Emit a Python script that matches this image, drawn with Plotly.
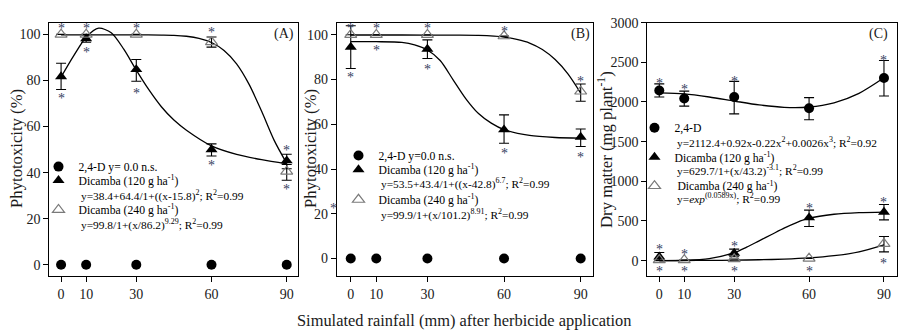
import plotly.graph_objects as go

# ---------------- data ----------------
rain = [0, 10, 30, 60, 90]

# Panel A - phytotoxicity (%)
A_24d = [0, 0, 0, 0, 0]
A_d120 = [81.7, 98.2, 84.8, 50.0, 45.2]
A_d120_up = [5.8, 1.7, 4.3, 2.5, 2.8]
A_d120_dn = [5.6, 1.6, 5.1, 2.8, 3.5]
A_d240 = [100, 100, 100, 96.7, 40.5]
A_d240_up = [0, 0, 0, 2.2, 3.0]
A_d240_dn = [0, 0, 0, 2.2, 3.8]
A_fit120_x = [0, 5, 10, 15, 20, 25, 30, 35, 40, 45, 50, 60, 70, 80, 90]
A_fit120_y = [81.5, 90.7, 98.8, 102.7, 100.7, 93.6, 84.5, 76.0, 68.6, 62.8, 58.4, 51.6, 47.9, 45.6, 43.8]
A_fit240_x = [0, 10, 20, 30, 40, 45, 50, 55, 60, 65, 70, 75, 80, 85, 90]
A_fit240_y = [99.8, 99.8, 99.8, 99.8, 99.7, 99.6, 99.2, 98.3, 96.5, 93.0, 87.2, 78.3, 66.6, 54.0, 44.0]
A_star_x = [0, 0, 10, 10, 30, 30, 60, 60, 90, 90]
A_star_y = [104, 73.4, 104, 93.5, 104, 75.8, 102.3, 44.6, 50.7, 34.0]

# Panel B - phytotoxicity (%)
B_24d = [0, 0, 0, 0, 0]
B_d120 = [94.5, None, 93.6, 57.6, 54.3]
B_d120_up = [9.5, 0, 4.1, 6.6, 3.6]
B_d120_dn = [9.6, 0, 4.2, 6.1, 4.2]
B_d240 = [100, 100, 100, 99.4, 74.7]
B_d240_up = [0, 0, 0, 0, 3.3]
B_d240_dn = [0, 0, 0, 0, 4.4]
B_fit120_x = [0, 10, 20, 25, 30, 35, 40, 45, 50, 55, 60, 70, 80, 90]
B_fit120_y = [96.9, 96.9, 96.6, 95.5, 93.2, 88.5, 80.0, 71.5, 64.8, 60.5, 57.6, 55.0, 54.1, 53.8]
B_fit240_x = [0, 20, 40, 50, 60, 65, 70, 75, 80, 85, 90]
B_fit240_y = [99.9, 99.9, 99.8, 99.7, 99.0, 97.9, 96.3, 93.4, 88.9, 82.5, 73.9]
B_star_x = [0, 0, 10, 10, 30, 30, 60, 60, 90, 90]
B_star_y = [104.2, 82.4, 104.2, 94.5, 104.2, 85.6, 103.0, 48.2, 80.6, 46.4]

# Panel C - dry matter (mg plant-1)
C_24d = [2145, 2043, 2063, 1920, 2302]
C_24d_up = [83, 94, 197, 135, 222]
C_24d_dn = [82, 95, 213, 144, 227]
C_d120 = [49, None, 95, 542, 613]
C_d120_up = [53, 0, 50, 95, 94]
C_d120_dn = [49, 0, 45, 111, 99]
C_d240 = [9, 9, 21, 28, 213]
C_d240_up = [0, 0, 0, 0, 92]
C_d240_dn = [0, 0, 0, 0, 102]
C_fit24d_x = [0, 10, 20, 30, 40, 50, 60, 70, 80, 90]
C_fit24d_y = [2115, 2102, 2063, 2012, 1963, 1933, 1937, 1990, 2109, 2305]
C_fit120_x = [0, 10, 20, 30, 35, 40, 45, 50, 55, 60, 70, 80, 90]
C_fit120_y = [0, 3, 25, 100, 170, 250, 330, 410, 480, 535, 585, 605, 612]
C_fit240_x = [0, 10, 20, 30, 40, 50, 60, 70, 80, 90]
C_fit240_y = [1, 2, 3, 6, 11, 19, 34, 62, 111, 200]
C_star_x = [0, 0, 0, 10, 10, 10, 30, 30, 30, 60, 60, 90, 90, 90]
C_star_y = [2269, 173, -95, 2199, 111, -95, 2297, 214, -95, 699, -95, 2565, 777, 8]

# legend texts
A_names = ["2,4-D y= 0.0 n.s.", "Dicamba (120 g ha<sup>-1</sup>)", "Dicamba (240 g ha<sup>-1</sup>)"]
A_eqs = [None, "y=38.4+64.4/1+((x-15.8)<sup>2</sup>; R<sup>2</sup>=0.99",
         "y=99.8/1+(x/86.2)<sup>9.29</sup>; R<sup>2</sup>=0.99"]
B_names = ["2,4-D y=0.0 n.s.", "Dicamba (120 g ha<sup>-1</sup>)", "Dicamba (240 g ha<sup>-1</sup>)"]
B_eqs = [None, "y=53.5+43.4/1+((x-42.8)<sup>6.7</sup>; R<sup>2</sup>=0.99",
         "y=99.9/1+(x/101.2)<sup>8.91</sup>; R<sup>2</sup>=0.99"]
C_names = ["2,4-D", "Dicamba (120 g ha<sup>-1</sup>)", " Dicamba (240 g ha<sup>-1</sup>)"]
C_eqs = ["y=2112.4+0.92x-0.22x<sup>2</sup>+0.0026x<sup>3</sup>; R<sup>2</sup>=0.92",
         "y=629.7/1+(x/43.2)<sup>-3.1</sup>; R<sup>2</sup>=0.99",
         "y=<i>exp</i><sup>(0.0589x)</sup>; R<sup>2</sup>=0.99"]

FONT = "'Liberation Serif', 'Times New Roman', Tinos, 'DejaVu Serif', serif"
W, H = 912, 336
STAR_COLOR = "#343e5e"
TXT = "#1a1a1a"
LEG_SIZE = 11.7

fig = go.Figure()
lay = {}
leg_counter = [0]


def add_panel(ax, ser, fits, names, eqs, text_x, name_y, eq_y, stars_x, stars_y):
    xa = "x" if ax == 1 else f"x{ax}"
    ya = "y" if ax == 1 else f"y{ax}"
    for fx, fy in fits:
        fig.add_trace(go.Scatter(x=fx, y=fy, mode="lines",
                                 line=dict(color="black", width=1.3, shape="spline", smoothing=0.8),
                                 xaxis=xa, yaxis=ya, showlegend=False, hoverinfo="skip"))
    styles = [
        dict(symbol="circle", size=10, color="black"),
        dict(symbol="triangle-up", size=10.5, color="black"),
        dict(symbol="triangle-up-open", size=10.5, color="#7a7a7a", line=dict(width=1.2)),
    ]
    for (yv, up, dn), st, nm, eq, ny, ey in zip(ser, styles, names, eqs, name_y, eq_y):
        err = None
        if up is not None:
            err = dict(type="data", symmetric=False, array=up, arrayminus=dn, color="black",
                       thickness=1.1, width=5)
        leg_counter[0] += 1
        lk = "legend" if leg_counter[0] == 1 else f"legend{leg_counter[0]}"
        lay[lk] = dict(font=dict(family=FONT, size=LEG_SIZE, color="black"), bgcolor="rgba(0,0,0,0)",
                       xanchor="left", yanchor="middle", x=(text_x - 40.5) / W, y=(H - ny) / H,
                       itemclick=False)
        fig.add_trace(go.Scatter(x=rain, y=yv, mode="markers", marker=st, error_y=err, name=nm,
                                 xaxis=xa, yaxis=ya, legend=lk, hoverinfo="skip"))
        if eq is not None:
            fig.add_annotation(x=text_x / W, y=(H - ey) / H, xref="paper", yref="paper", text=eq,
                               showarrow=False, xanchor="left", yanchor="middle",
                               font=dict(family=FONT, size=11.4, color="black"))
    for sx, sy in zip(stars_x, stars_y):
        fig.add_annotation(x=sx, y=sy, xref=xa, yref=ya, text="*", showarrow=False, yshift=-3,
                           xanchor="center", yanchor="middle",
                           font=dict(family=FONT, size=14, color=STAR_COLOR))


add_panel(1, [(A_24d, None, None), (A_d120, A_d120_up, A_d120_dn), (A_d240, A_d240_up, A_d240_dn)],
          [(A_fit120_x, A_fit120_y), (A_fit240_x, A_fit240_y)], A_names, A_eqs,
          79, [163, 177, 207], [None, 192, 222], A_star_x, A_star_y)
add_panel(2, [(B_24d, None, None), (B_d120, B_d120_up, B_d120_dn), (B_d240, B_d240_up, B_d240_dn)],
          [(B_fit120_x, B_fit120_y), (B_fit240_x, B_fit240_y)], B_names, B_eqs,
          379, [151.7, 166, 196.7], [None, 180.5, 211.7], B_star_x, B_star_y)
add_panel(3, [(C_24d, C_24d_up, C_24d_dn), (C_d120, C_d120_up, C_d120_dn), (C_d240, C_d240_up, C_d240_dn)],
          [(C_fit24d_x, C_fit24d_y), (C_fit120_x, C_fit120_y), (C_fit240_x, C_fit240_y)],
          C_names, C_eqs, 675, [123.3, 153.3, 182.7], [137.5, 166.5, 195.5], C_star_x, C_star_y)

axis_common = dict(showline=True, linecolor="black", linewidth=1, mirror=True, ticks="outside", ticklen=5,
                   tickcolor="black", tickwidth=1, showgrid=False, zeroline=False,
                   tickfont=dict(family=FONT, size=14, color=TXT))
ydom = [61 / H, 320 / H]
xdoms = [[49.3 / W, 298 / W], [336.7 / W, 592.7 / W], [647.3 / W, 896.7 / W]]
xranges = [[-4.7, 94.5], [-5.5, 94.7], [-4.8, 95.1]]
yranges = [[-5.0, 105.1], [-7.9, 105.4], [-197, 3000]]
ytv = [[0, 20, 40, 60, 80, 100], [0, 20, 40, 60, 80, 100], [0, 500, 1000, 1500, 2000, 2500, 3000]]

for i in range(3):
    k = "" if i == 0 else str(i + 1)
    lay["xaxis" + k] = dict(axis_common, domain=xdoms[i], range=xranges[i], tickvals=rain,
                            anchor="y" + k)
    lay["yaxis" + k] = dict(axis_common, domain=ydom, range=yranges[i], tickvals=ytv[i],
                            anchor="x" + k)

fig.update_layout(width=W, height=H, margin=dict(l=0, r=0, t=0, b=0), plot_bgcolor="white",
                  paper_bgcolor="white", font=dict(family=FONT), **lay)


def note(x, y, text, size, angle=0, xanchor="center", color=TXT):
    fig.add_annotation(x=x / W, y=(H - y) / H, xref="paper", yref="paper", text=text, textangle=angle,
                       showarrow=False, xanchor=xanchor, yanchor="middle",
                       font=dict(family=FONT, size=size, color=color))


note(17, 145, "Phytotoxicity (%)", 16.7, -90)
note(311, 145, "Phytotoxicity (%)", 16.7, -90)
note(606, 146, "Dry matter (mg plant<sup>-1</sup>)", 16.7, -90)
note(465, 320, "Simulated rainfall (mm) after herbicide application", 16.4)
for lbl, xr in [("(A)", 296), ("(B)", 592), ("(C)", 890)]:
    note(xr, 28, lbl, 14, xanchor="right")
note(333, 206, "*", 14, color=STAR_COLOR)

fig.write_html("out.html", config={"displayModeBar": False},
               post_script="document.body.style.margin='0';document.body.style.padding='0';")
